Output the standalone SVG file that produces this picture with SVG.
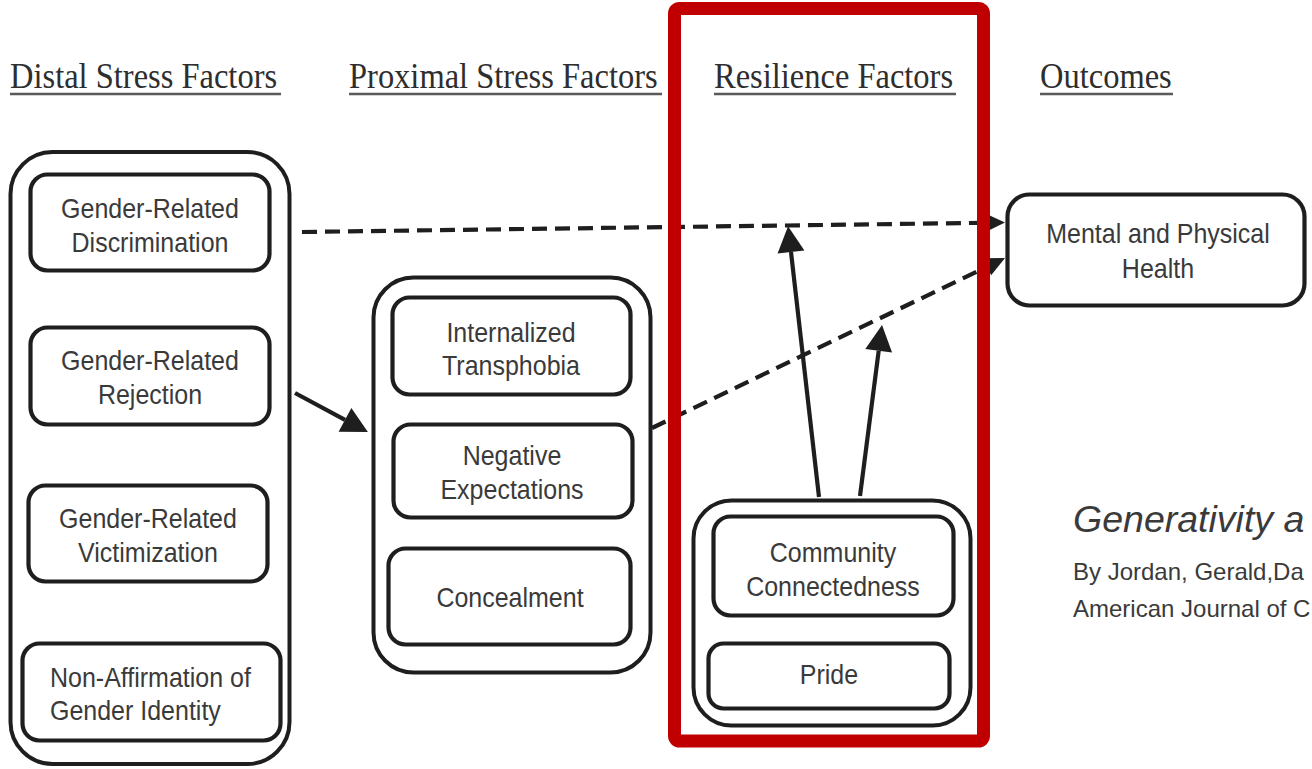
<svg xmlns="http://www.w3.org/2000/svg" width="1312" height="769" viewBox="0 0 1312 769">
<style>
  .hdr{font-family:"Liberation Serif","Times New Roman",serif;font-size:32.5px;fill:#2e2e2e;transform-box:fill-box;transform-origin:50% 80%;transform:scaleY(1.08)}
  .ul{stroke:#5a5a5a;stroke-width:2.6}
  .lbl{font-family:"Liberation Sans",Arial,sans-serif;font-size:25px;fill:#3a3a3a;text-anchor:middle;transform-box:fill-box;transform-origin:50% 80%;transform:scaleY(1.1)}
  .outer{fill:#fff;stroke:#1e1e1e;stroke-width:4}
  .inner{fill:#fff;stroke:#1e1e1e;stroke-width:4.2}
  .solid{stroke:#1e1e1e;stroke-width:4.2;fill:none}
  .dash{stroke:#1e1e1e;stroke-width:4.2;fill:none;stroke-dasharray:15 8}
  .cite{font-family:"Liberation Sans",Arial,sans-serif;fill:#3a3a3a}
</style>
<defs>
  <marker id="hb" markerUnits="userSpaceOnUse" markerWidth="28" markerHeight="28" refX="0" refY="13.5" orient="auto" overflow="visible">
    <path d="M0,0 L26,13.5 L0,27 z" fill="#1e1e1e"/>
  </marker>
  <marker id="hs" markerUnits="userSpaceOnUse" markerWidth="22" markerHeight="22" refX="0" refY="9.5" orient="auto" overflow="visible">
    <path d="M0,0 L20,9.5 L0,19 z" fill="#1e1e1e"/>
  </marker>
</defs>
<rect width="1312" height="769" fill="#fff"/>

<g id="headers">
  <text class="hdr" x="10" y="88">Distal Stress Factors</text>
  <line class="ul" x1="10" y1="94" x2="281" y2="94"/>
  <text class="hdr" x="349" y="88">Proximal Stress Factors</text>
  <line class="ul" x1="349" y1="94" x2="662" y2="94"/>
  <text class="hdr" x="714" y="88">Resilience Factors</text>
  <line class="ul" x1="714" y1="94" x2="956" y2="94"/>
  <text class="hdr" x="1040" y="88">Outcomes</text>
  <line class="ul" x1="1040" y1="94" x2="1173" y2="94"/>
</g>

<g id="distal">
  <rect class="outer" x="10.5" y="152" width="279" height="612" rx="42"/>
  <g id="discrimination">
    <rect class="inner" x="30.5" y="174.5" width="239" height="96" rx="17"/>
    <text class="lbl" x="150" y="218">Gender-Related</text>
    <text class="lbl" x="150" y="252">Discrimination</text>
  </g>
  <g id="rejection">
    <rect class="inner" x="30.5" y="327.5" width="239" height="97" rx="17"/>
    <text class="lbl" x="150" y="370">Gender-Related</text>
    <text class="lbl" x="150" y="404">Rejection</text>
  </g>
  <g id="victimization">
    <rect class="inner" x="28.5" y="485.5" width="239" height="96" rx="17"/>
    <text class="lbl" x="148" y="528">Gender-Related</text>
    <text class="lbl" x="148" y="562">Victimization</text>
  </g>
  <g id="nonaffirmation">
    <rect class="inner" x="22.5" y="643.5" width="258" height="97" rx="17"/>
    <text class="lbl" x="50" y="687" style="text-anchor:start">Non-Affirmation of</text>
    <text class="lbl" x="50" y="720" style="text-anchor:start">Gender Identity</text>
  </g>
</g>

<g id="proximal">
  <rect class="outer" x="373.5" y="277.5" width="277" height="395" rx="40"/>
  <g id="transphobia">
    <rect class="inner" x="392.5" y="297.5" width="238" height="97" rx="17"/>
    <text class="lbl" x="511" y="342">Internalized</text>
    <text class="lbl" x="511" y="375">Transphobia</text>
  </g>
  <g id="expectations">
    <rect class="inner" x="393.5" y="424.5" width="239" height="93" rx="17"/>
    <text class="lbl" x="512" y="465">Negative</text>
    <text class="lbl" x="512" y="499">Expectations</text>
  </g>
  <g id="concealment">
    <rect class="inner" x="388.5" y="548.5" width="242" height="96" rx="17"/>
    <text class="lbl" x="510" y="607">Concealment</text>
  </g>
</g>

<g id="resilience">
  <rect class="outer" x="693.5" y="500.5" width="277" height="225" rx="38"/>
  <g id="community">
    <rect class="inner" x="713.5" y="516.5" width="240" height="99" rx="17"/>
    <text class="lbl" x="833" y="562">Community</text>
    <text class="lbl" x="833" y="596">Connectedness</text>
  </g>
  <g id="pride">
    <rect class="inner" x="708.5" y="643.5" width="241" height="65" rx="15"/>
    <text class="lbl" x="829" y="684">Pride</text>
  </g>
</g>

<g id="outcome">
  <rect class="inner" x="1007.5" y="194.5" width="297" height="111" rx="22"/>
  <text class="lbl" x="1158" y="243">Mental and Physical</text>
  <text class="lbl" x="1158" y="278">Health</text>
</g>

<g id="connectors">
  <line class="dash" x1="302" y1="232" x2="985" y2="222.8" marker-end="url(#hs)"/>
  <line class="dash" x1="652" y1="428" x2="987" y2="266.7" marker-end="url(#hs)"/>
  <line class="solid" x1="819" y1="497" x2="791" y2="252" marker-end="url(#hb)"/>
  <line class="solid" x1="860" y1="496" x2="878.7" y2="350.8" marker-end="url(#hb)"/>
  <line class="solid" x1="295" y1="393" x2="345" y2="419.8" marker-end="url(#hb)"/>
</g>

<g id="highlight">
  <rect x="674.5" y="8.5" width="309" height="732.5" rx="5" fill="none" stroke="#c00000" stroke-width="13"/>
</g>

<g id="citation">
  <text class="cite" x="1073" y="532" font-size="37.5" font-style="italic">Generativity a</text>
  <text class="cite" x="1073" y="580" font-size="24">By Jordan, Gerald,Da</text>
  <text class="cite" x="1073" y="617" font-size="24">American Journal of C</text>
</g>
</svg>
